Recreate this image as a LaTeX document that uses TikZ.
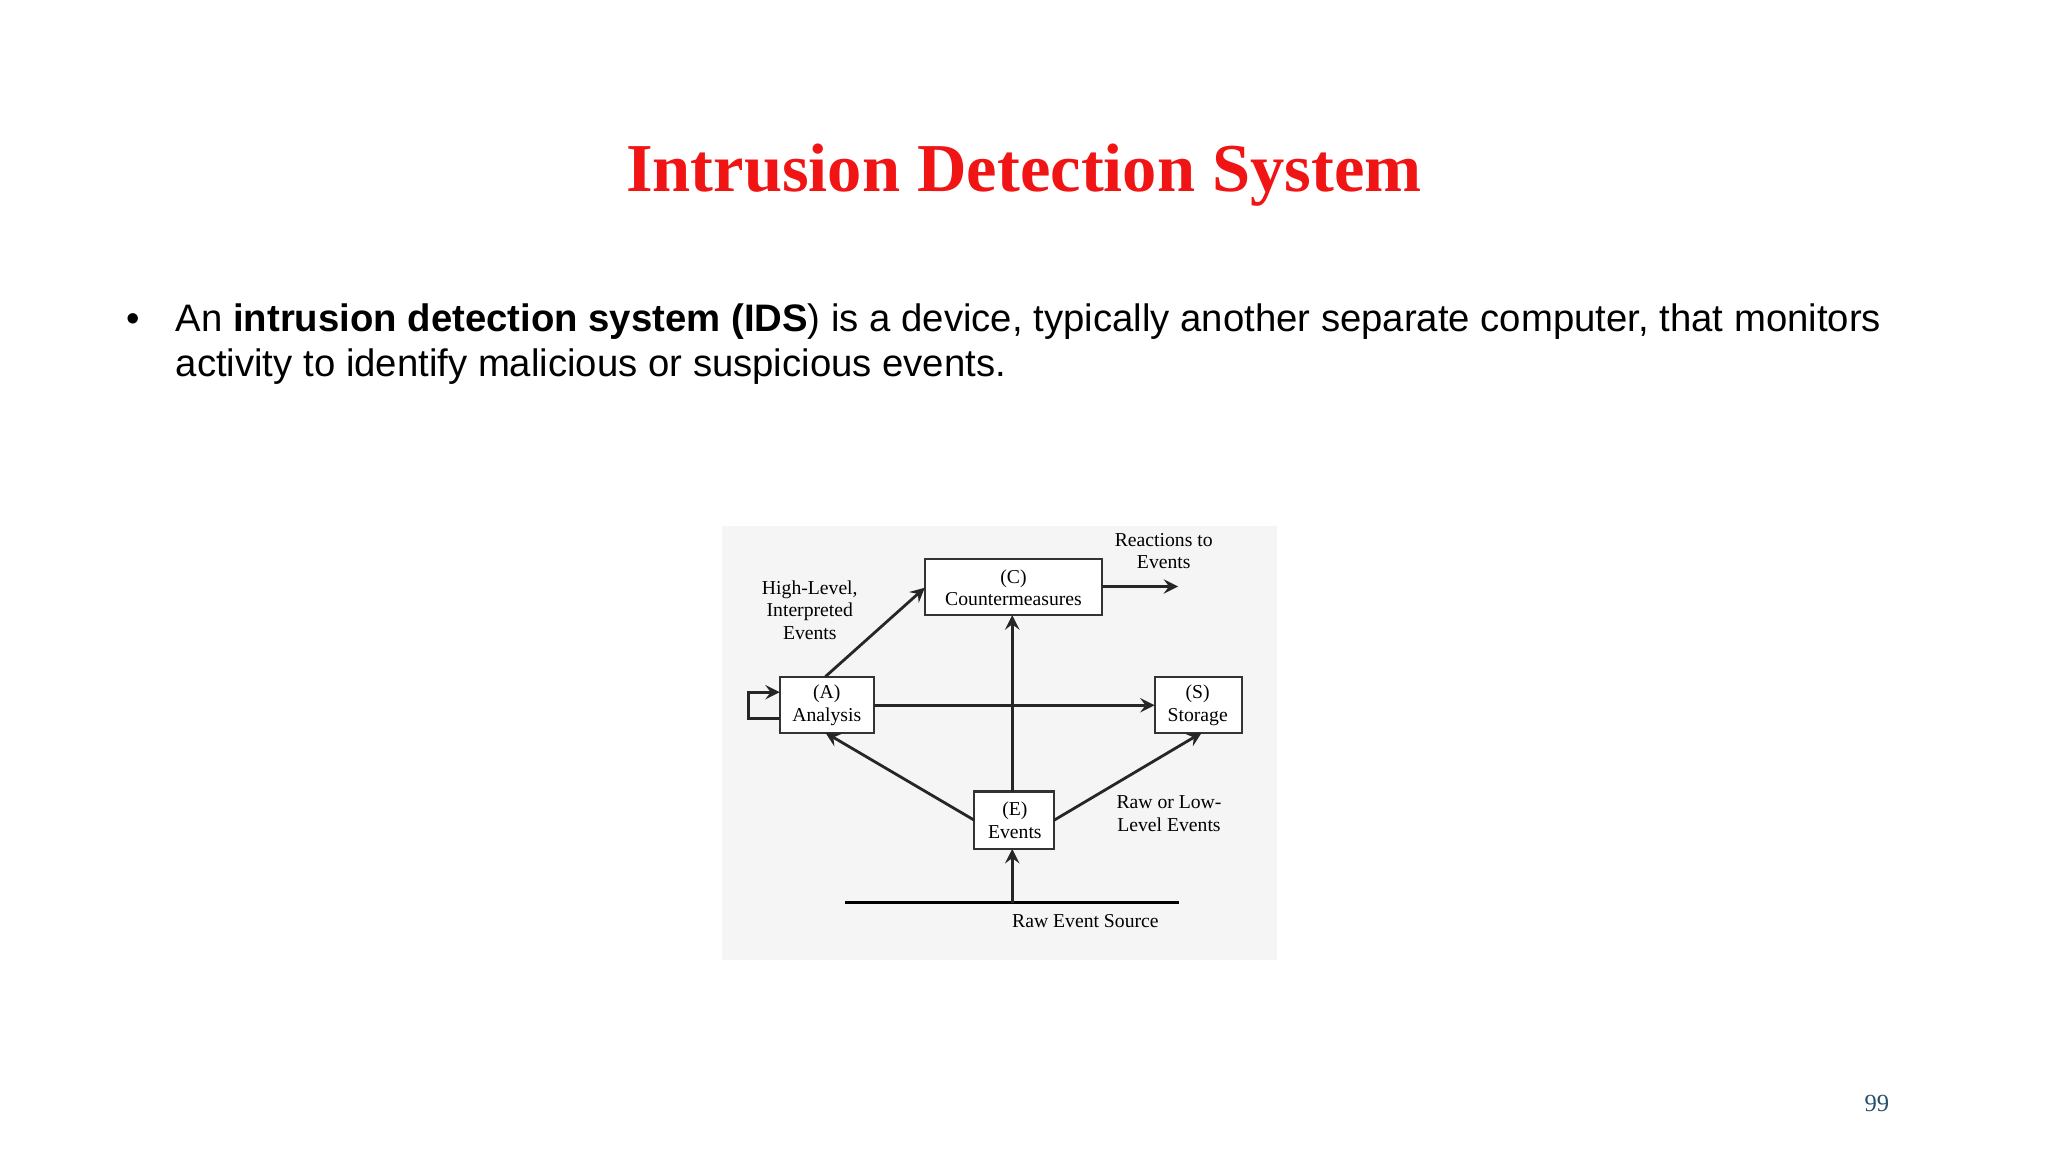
\documentclass[tikz,border=0pt]{standalone}
\usepackage{fontspec}
\setmainfont{Liberation Serif}
\newfontfamily\arial{Liberation Sans}
\definecolor{titlered}{RGB}{240,20,20}
\definecolor{pgnum}{RGB}{40,80,110}
\begin{document}
\begin{tikzpicture}[x=0.01306cm,y=-0.01306cm,
  lbl/.style={align=center,font=\fontsize{5.6}{6.4}\selectfont,inner sep=0pt},
  boxln/.style={draw=black!80,line width=0.6pt,fill=white},
  ar/.style={-stealth,line width=0.8pt,black!85}]
\useasboundingbox (0,0) rectangle (1568,882);
\fill[white] (0,0) rectangle (1568,882);
\node[font=\fontsize{19.5}{23}\bfseries\selectfont,text=titlered] (title) at (784,134) {Intrusion Detection System};
\node[font=\arial\fontsize{10.9}{12.8}\selectfont] (bul) at (102,247) {•};
\node[anchor=north west,align=left,font=\arial\fontsize{10.9}{12.8}\selectfont,inner sep=0pt] (txt) at (134,232)
 {An \textbf{intrusion detection system (IDS}) is a device, typically another separate computer, that monitors\\activity to identify malicious or suspicious events.};
\fill[black!4] (553,403) rectangle (978,735);
\draw[boxln] (708,428) rectangle (844,471);
\draw[boxln] (597,518) rectangle (669,561);
\draw[boxln] (884,518) rectangle (951,561);
\draw[boxln] (746,606) rectangle (807,650);
\node[lbl] (Ct) at (776,450) {(C)\\Countermeasures};
\node[lbl] (At) at (633,540) {(A)\\Analysis};
\node[lbl] (St) at (917,540) {(S)\\Storage};
\node[lbl] (Et) at (777,628) {(E)\\Events};
\coordinate (Atop) at (632,518); \coordinate (Cleft) at (708,450);
\coordinate (Cright) at (844,449); \coordinate (Rend) at (902,449);
\coordinate (Aright) at (669,540); \coordinate (Sleft) at (884,540);
\coordinate (Etop) at (775,606); \coordinate (Cbot) at (775,471);
\coordinate (Eleft) at (746,628); \coordinate (Abot) at (632,561);
\coordinate (Eright) at (807,628); \coordinate (Sbot) at (920,561);
\coordinate (R1) at (647,691); \coordinate (R2) at (903,691); \coordinate (Rm) at (775,691);
\coordinate (Ebot) at (775,650);
\draw[ar] (Atop) -- (Cleft);
\draw[ar] (Cright) -- (Rend);
\draw[ar] (Aright) -- (Sleft);
\draw[ar] (Etop) -- (Cbot);
\draw[ar] (Eleft) -- (Abot);
\draw[ar] (Eright) -- (Sbot);
\draw[line width=1pt] (R1) -- (R2);
\draw[ar] (Rm) -- (Ebot);
\draw[ar] (597,550) -- (573,550) -- (573,530) -- (597,530);
\node[lbl] (l1) at (620,467) {High-Level,\\Interpreted\\Events};
\node[lbl] (l2) at (891,422) {Reactions to\\Events};
\node[lbl] (l3) at (895,623) {Raw or Low-\\Level Events};
\node[lbl] (l4) at (831,705) {Raw Event Source};
\node[font=\fontsize{7}{8}\selectfont,text=pgnum] (pg) at (1437,845) {99};
\end{tikzpicture}
\end{document}
